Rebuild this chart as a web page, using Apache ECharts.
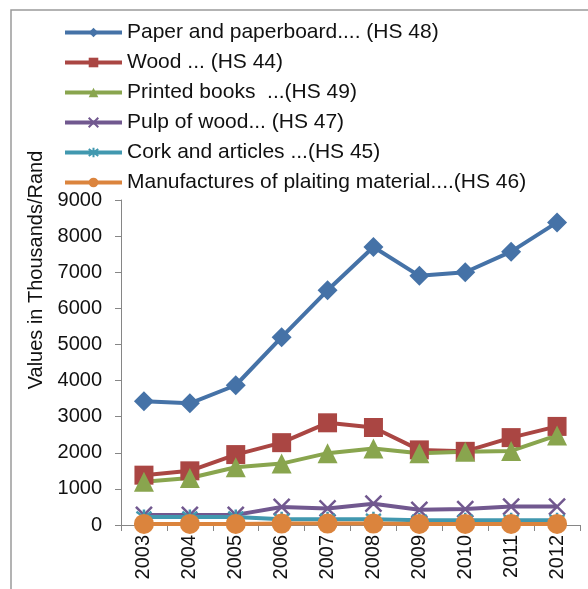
<!DOCTYPE html>
<html>
<head>
<meta charset="utf-8">
<script src="https://cdn.jsdelivr.net/npm/echarts@6/dist/echarts.min.js"></script>
<style>
  html, body { margin: 0; padding: 0; background: #fff; }
  #chart { width: 588px; height: 589px; }
</style>
</head>
<body>
<div id="chart"></div>
<script>
const years = ['2003', '2004', '2005', '2006', '2007', '2008', '2009', '2010', '2011', '2012'];
const yTicks = [0, 1000, 2000, 3000, 4000, 5000, 6000, 7000, 8000, 9000];

const paper = [3430, 3370, 3870, 5200, 6500, 7700, 6900, 7000, 7570, 8380];
const wood = [1380, 1500, 1950, 2280, 2830, 2700, 2080, 2040, 2420, 2730];
const books = [1200, 1300, 1600, 1700, 1990, 2120, 1990, 2030, 2050, 2480];
const pulp = [280, 280, 280, 500, 460, 590, 420, 440, 510, 510];
const cork = [220, 220, 220, 160, 160, 160, 130, 130, 130, 130];
const plaiting = [30, 30, 30, 40, 40, 40, 30, 30, 30, 30];

const FONT = 'Liberation Sans';
const X_SYMBOL = 'path://M0,0L10,10M10,0L0,10';
const STAR_SYMBOL = 'path://M5,0L5,10M0,1.5L10,8.5M10,1.5L0,8.5';

function lineSeries(name, data, color, symbol, size) {
  const isPath = symbol.indexOf('path://') === 0;
  return {
    name: name,
    type: 'line',
    data: data,
    symbol: symbol,
    symbolSize: size,
    showAllSymbol: true,
    lineStyle: { color: color, width: 4 },
    itemStyle: {
      color: color,
      borderColor: color,
      borderWidth: isPath ? 2.5 : 0
    },
    emphasis: { disabled: true }
  };
}

const chart = echarts.init(document.getElementById('chart'), null, { renderer: 'canvas' });

chart.setOption({
  animation: false,
  backgroundColor: '#fff',
  textStyle: { fontFamily: FONT },
  legend: {
    orient: 'vertical',
    left: 63,
    top: 22,
    padding: 0,
    itemWidth: 57,
    itemHeight: 12,
    itemGap: 9,
    lineStyle: { width: 4 },
    textStyle: { fontSize: 21, color: '#111', lineHeight: 20, fontFamily: FONT },
    data: [
      'Paper and paperboard.... (HS 48)',
      'Wood ... (HS 44)',
      'Printed books  ...(HS 49)',
      'Pulp of wood... (HS 47)',
      'Cork and articles ...(HS 45)',
      'Manufactures of plaiting material....(HS 46)'
    ]
  },
  graphic: [
    {
      type: 'polyline',
      shape: { points: [[11, 589], [11, 10], [588, 10]] },
      style: { stroke: '#9a9a9a', lineWidth: 1.5, fill: null },
      silent: true
    },
    {
      type: 'text',
      x: 36,
      y: 270,
      rotation: Math.PI / 2,
      style: {
        text: 'Values in Thousands/Rand',
        fontSize: 20,
        fontFamily: FONT,
        fill: '#111',
        align: 'center',
        verticalAlign: 'middle'
      }
    }
  ],
  grid: { left: 121, right: 8, top: 200, bottom: 64, containLabel: false },
  xAxis: {
    type: 'category',
    data: years,
    boundaryGap: true,
    axisLine: { lineStyle: { color: '#868686', width: 1 } },
    axisTick: { show: true, length: 6, alignWithLabel: false, lineStyle: { color: '#868686' } },
    axisLabel: { rotate: 90, fontSize: 20, color: '#111', margin: 10, fontFamily: FONT }
  },
  yAxis: {
    type: 'value',
    min: yTicks[0],
    max: yTicks[yTicks.length - 1],
    interval: 1000,
    axisLine: { show: true, lineStyle: { color: '#868686', width: 1 } },
    axisTick: { show: true, length: 6, lineStyle: { color: '#868686' } },
    axisLabel: {
      fontSize: 20,
      color: '#111',
      margin: 19,
      fontFamily: FONT,
      formatter: function (v) { return String(v); }
    },
    splitLine: { show: false }
  },
  series: [
    lineSeries('Paper and paperboard.... (HS 48)', paper, '#4572A7', 'diamond', 20),
    lineSeries('Wood ... (HS 44)', wood, '#AA4643', 'rect', 19),
    lineSeries('Printed books  ...(HS 49)', books, '#89A54E', 'triangle', 20),
    lineSeries('Pulp of wood... (HS 47)', pulp, '#71588F', X_SYMBOL, 16),
    lineSeries('Cork and articles ...(HS 45)', cork, '#4198AF', STAR_SYMBOL, 15),
    lineSeries('Manufactures of plaiting material....(HS 46)', plaiting, '#DB843D', 'circle', 20)
  ]
});
</script>
</body>
</html>
